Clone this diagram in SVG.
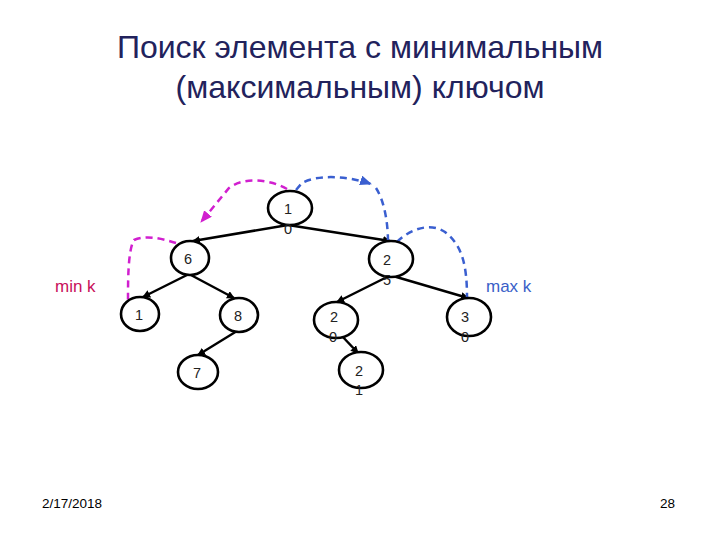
<svg xmlns="http://www.w3.org/2000/svg" width="720" height="540" viewBox="0 0 720 540">
<defs>
<style>
.title{font-family:"Liberation Sans",Arial,sans-serif;font-size:32px;fill:#22225c;text-anchor:middle}
.node ellipse{fill:#fff;stroke:#000;stroke-width:2.6}
.node text{font-family:"Liberation Sans",Arial,sans-serif;font-size:14.5px;fill:#222;text-anchor:middle}
.edge{stroke:#000;stroke-width:2.5;fill:none;marker-end:url(#ah)}
.mg{stroke:#d11fcf;stroke-width:2.5;fill:none;stroke-dasharray:7 5}
.bl{stroke:#3a5fd0;stroke-width:2.5;fill:none;stroke-dasharray:7 5}
.foot{font-family:"Liberation Sans",Arial,sans-serif;font-size:13.5px;fill:#000}
</style>
<marker id="ah" markerWidth="8" markerHeight="8" refX="7" refY="4" orient="auto" markerUnits="userSpaceOnUse"><path d="M0,0 L8,4 L0,8 z" fill="#000"/></marker>
<marker id="am" markerWidth="12" markerHeight="10" refX="11" refY="5" orient="auto" markerUnits="userSpaceOnUse"><path d="M0,0 L12,5 L0,10 z" fill="#d11fcf"/></marker>
<marker id="ab" markerWidth="12" markerHeight="10" refX="11" refY="5" orient="auto" markerUnits="userSpaceOnUse"><path d="M0,0 L12,5 L0,10 z" fill="#3a5fd0"/></marker>
</defs>
<rect width="720" height="540" fill="#fff"/>
<text class="title" x="360" y="58">Поиск элемента с минимальным</text>
<text class="title" x="360" y="98">(максимальным) ключом</text>

<g id="connectors">
<path class="edge" d="M288 225 L193 241"/>
<path class="edge" d="M288 225 L390 241"/>
<path class="edge" d="M189 274 L143 297"/>
<path class="edge" d="M189 274 L234 298"/>
<path class="edge" d="M237 331 L198 355"/>
<path class="edge" d="M389 276 L337 302"/>
<path class="edge" d="M393 276 L468 298"/>
<path class="edge" d="M341 335 L358 353"/>
<path class="mg" d="M287 189 C 272 180, 244 176, 229 188 L 201 222" marker-end="url(#am)"/>
<path class="mg" d="M176 243 C 160 238, 146 235, 134 240 C 128 250, 128 280, 128 300"/>
<path class="bl" d="M296 190 L302 183 C 316 175, 345 175, 371 184" marker-end="url(#ab)"/>
<path class="bl" d="M376 188 C 385 202, 388 225, 388 242"/>
<path class="bl" d="M397 242 C 410 229, 430 222, 445 232 C 462 245, 467 265, 467 297"/>
</g>

<g id="n10" class="node"><ellipse cx="290" cy="208" rx="22" ry="17"/><text x="288" y="214">1</text><text x="288" y="234">0</text></g>
<g id="n6" class="node"><ellipse cx="190" cy="258" rx="19" ry="17"/><text x="188" y="264">6</text></g>
<g id="n25" class="node"><ellipse cx="391" cy="259" rx="22" ry="18"/><text x="387" y="265">2</text><text x="387" y="285">5</text></g>
<g id="n1" class="node"><ellipse cx="140" cy="314" rx="19" ry="17"/><text x="139" y="320">1</text></g>
<g id="n8" class="node"><ellipse cx="239" cy="315" rx="19" ry="17"/><text x="238" y="321">8</text></g>
<g id="n20" class="node"><ellipse cx="336" cy="320" rx="22" ry="18"/><text x="334" y="322">2</text><text x="333" y="342">0</text></g>
<g id="n30" class="node"><ellipse cx="469" cy="317" rx="22" ry="19"/><text x="465" y="322">3</text><text x="465" y="342">0</text></g>
<g id="n7" class="node"><ellipse cx="198" cy="372" rx="20" ry="17"/><text x="197" y="378">7</text></g>
<g id="n21" class="node"><ellipse cx="361" cy="370" rx="22" ry="18"/><text x="359" y="376">2</text><text x="359" y="395">1</text></g>

<text x="55" y="292" style="font-family:'Liberation Sans',Arial,sans-serif;font-size:17px;fill:#c8105a">min k</text>
<text x="486" y="292" style="font-family:'Liberation Sans',Arial,sans-serif;font-size:17px;fill:#3a5fc8">max k</text>
<text class="foot" x="42" y="508">2/17/2018</text>
<text class="foot" x="660" y="508">28</text>
</svg>
